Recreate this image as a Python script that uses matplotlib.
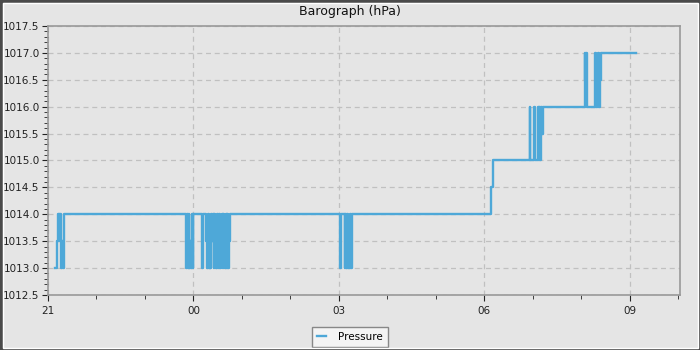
import matplotlib
matplotlib.use("Agg")
import matplotlib.pyplot as plt
import matplotlib.dates as mdates
from matplotlib.patches import Rectangle
from matplotlib.ticker import MultipleLocator
import pandas as pd

# minutes after 21:00 and pressure readings (hPa)
minutes = [9, 11, 12, 13, 14, 16, 17, 18, 20,
           171, 172, 173, 174, 175, 176, 177, 178, 179, 180,
           190, 191, 192,
           196, 197, 198, 199, 200, 201, 202, 203, 204, 205, 206, 207, 208, 209, 210,
           211, 212, 213, 214, 215, 216, 217, 218, 219, 220, 221, 222, 223, 224, 225,
           361, 363, 367, 368, 369, 370, 371, 374, 375, 376,
           548, 550,
           596, 597, 601, 602, 606, 607, 608, 609, 610, 611, 612,
           664, 665, 666, 667, 677, 678, 679, 680, 681, 682, 683, 684, 727]
pressure = [1013.0, 1013.5, 1014.0, 1013.5, 1014.0, 1013.0, 1013.5, 1013.0, 1014.0,
            1013.0, 1014.0, 1013.0, 1014.0, 1013.0, 1013.5, 1013.0, 1014.0, 1013.0, 1014.0,
            1013.5, 1013.0, 1014.0,
            1013.5, 1013.0, 1014.0, 1013.0, 1013.5, 1013.0, 1014.0, 1013.5, 1014.0, 1013.0, 1014.0, 1013.5, 1013.0, 1014.0, 1013.5,
            1013.0, 1014.0, 1013.0, 1013.5, 1014.0, 1013.0, 1014.0, 1013.5, 1013.0, 1014.0, 1013.0, 1014.0, 1013.0, 1013.5, 1014.0,
            1013.0, 1014.0, 1013.0, 1014.0, 1013.0, 1014.0, 1013.0, 1014.0, 1013.0, 1014.0,
            1014.5, 1015.0,
            1016.0, 1015.0, 1016.0, 1015.0, 1016.0, 1015.0, 1016.0, 1015.0, 1016.0, 1015.5, 1016.0,
            1017.0, 1016.5, 1017.0, 1016.0, 1017.0, 1016.0, 1016.5, 1016.0, 1017.0, 1016.0, 1016.5, 1017.0, 1017.0]

title = "Barograph (hPa)"
series_label = "Pressure"
start = pd.Timestamp("2024-01-01 21:00")
x_span_minutes = 782

times = start + pd.to_timedelta(minutes, unit="m")

bg = "#e5e5e5"
fig = plt.figure(figsize=(7, 3.5), dpi=100, facecolor=bg)
ax = fig.add_axes([48/700, 1-295/350, (680-48)/700, (295-26)/350])
ax.set_facecolor(bg)

line, = ax.plot(times, pressure, drawstyle="steps-post", color="#4ea8d8", lw=1.7, label=series_label)

ax.set_xlim(start, start + pd.Timedelta(minutes=x_span_minutes))
ax.set_ylim(1012.5, 1017.5)
ax.yaxis.set_major_locator(MultipleLocator(0.5))
ax.yaxis.set_minor_locator(MultipleLocator(0.1))
ax.yaxis.set_major_formatter(matplotlib.ticker.FormatStrFormatter("%.1f"))
ax.xaxis.set_major_locator(mdates.HourLocator(byhour=range(0, 24, 3)))
ax.xaxis.set_minor_locator(mdates.HourLocator())
ax.xaxis.set_major_formatter(mdates.DateFormatter("%H"))

ax.grid(True, which="major", color="#c0c0c0", linestyle=(0, (4, 3)), lw=0.9)
for s in ax.spines.values():
    s.set_color("#999999")
    s.set_linewidth(1.2)
ax.tick_params(which="both", colors="#222222", labelsize=7.5, direction="out")
ax.tick_params(which="major", length=4)
ax.tick_params(which="minor", length=3)
ax.tick_params(axis="y", pad=2)
ax.tick_params(axis="x", pad=4)

fig.text(0.5, 1-12/350, title, ha="center", va="center", fontsize=9, color="#111111")

leg = fig.legend(handles=[line], loc="center", bbox_to_anchor=(0.5, 1-337/350),
                 fontsize=7.5, frameon=True, fancybox=False, handlelength=0.8,
                 borderpad=0.5, handletextpad=1.2, borderaxespad=0)
leg.get_frame().set_facecolor("#f4f4f4")
leg.get_frame().set_edgecolor("#888888")
leg.get_frame().set_alpha(1)

# outer border
fig.patches.append(Rectangle((0, 0), 1, 1, transform=fig.transFigure, fill=False,
                             edgecolor="#4a4a4a", lw=3.5, zorder=10))
fig.patches.append(Rectangle((2.5/700, 2.5/350), 1-5/700, 1-5/350, transform=fig.transFigure,
                             fill=False, edgecolor="#ffffff", lw=1, zorder=10))

fig.savefig("out.png", dpi=100, facecolor=bg)
